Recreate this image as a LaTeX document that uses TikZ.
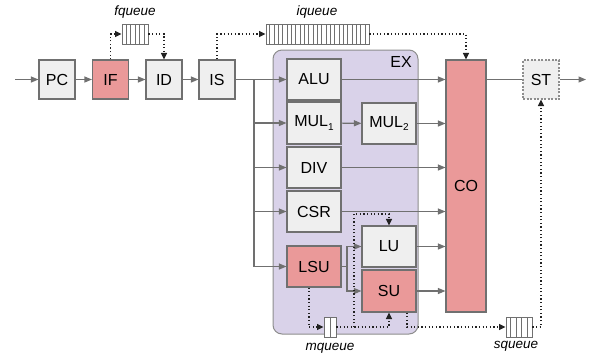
\documentclass[tikz,border=0pt]{standalone}
\usepackage{fontspec}
\setmainfont{Liberation Sans}
\usetikzlibrary{arrows.meta,calc}
\definecolor{boxgray}{HTML}{EFEFEF}
\definecolor{boxred}{HTML}{EA9999}
\definecolor{exfill}{HTML}{D9D2E9}
\definecolor{edge}{HTML}{707070}
\definecolor{dotc}{HTML}{222222}
\tikzset{
  unit/.style={draw=edge, line width=1.1pt, fill=boxgray, inner sep=0pt,
    font=\fontsize{16}{18}\selectfont},
  redunit/.style={unit, fill=boxred},
  queuebox/.style={draw=edge, line width=0.9pt, fill=white, inner sep=0pt,
    minimum height=20pt},
  qlabel/.style={font=\fontsize{13.5}{15}\selectfont\itshape},
  sline/.style={draw=edge, line width=1.1pt},
  arr/.style={sline, -{Triangle[length=7.5pt,width=6pt]}},
  darr/.style={draw=dotc, line width=1.2pt, dash pattern=on 1.2pt off 2.4pt,
    -{Triangle[length=6.5pt,width=6pt]}},
}
\newcommand{\sbsc}[1]{\raisebox{-0.45ex}{\fontsize{10}{10}\selectfont #1}}
\begin{document}
\begin{tikzpicture}[x=1pt,y=-1pt]
\path[use as bounding box] (0,0) rectangle (590,360);
% EX region
\draw[draw=edge!80, line width=1pt, fill=exfill, rounded corners=9pt] (273,50) rectangle (418,334);
\node[font=\fontsize{16}{18}\selectfont] (exlab) at (401,62) {EX};
% front-end
\node[unit, minimum width=36pt, minimum height=39pt] (PC) at (57,79.5) {PC};
\node[redunit, minimum width=36pt, minimum height=39pt] (IF) at (110.5,79.5) {IF};
\node[unit, minimum width=36pt, minimum height=39pt] (ID) at (164,79.5) {ID};
\node[unit, minimum width=36pt, minimum height=39pt] (IS) at (217,79.5) {IS};
% EX units
\node[unit, minimum width=54pt, minimum height=41pt] (ALU) at (314,79.5) {ALU};
\node[unit, minimum width=54pt, minimum height=42pt] (MUL1) at (314,123) {MUL\sbsc{1}};
\node[unit, minimum width=54pt, minimum height=41pt] (MUL2) at (389,123.5) {MUL\sbsc{2}};
\node[unit, minimum width=54pt, minimum height=41pt] (DIV) at (314,167.5) {DIV};
\node[unit, minimum width=54pt, minimum height=41pt] (CSR) at (314,211.5) {CSR};
\node[redunit, minimum width=54pt, minimum height=41pt] (LSU) at (314,266.5) {LSU};
\node[unit, minimum width=54pt, minimum height=41pt] (LU) at (389,246.5) {LU};
\node[redunit, minimum width=54pt, minimum height=42pt] (SU) at (389,291) {SU};
% commit / store
\node[redunit, minimum width=40pt, minimum height=252pt] (CO) at (466,186) {CO};
\node[unit, draw=edge!80, dash pattern=on 2pt off 1.5pt, minimum width=36pt, minimum height=39pt] (ST) at (541,79.5) {ST};
% queues
\node[queuebox, minimum width=26pt] (fq) at (135,34) {};
\node[queuebox, minimum width=103pt] (iq) at (317.5,34) {};
\node[queuebox, minimum width=12pt] (mq) at (330,327) {};
\node[queuebox, minimum width=26pt] (sq) at (519,327) {};
\foreach \q/\n in {fq/6, iq/24, mq/2, sq/5}{
  \pgfmathtruncatemacro{\m}{\n-1}
  \foreach \i in {1,...,\m}{
    \draw[draw=edge, line width=0.9pt]
      ($(\q.south west)!\i/\n!(\q.south east)$) -- ($(\q.north west)!\i/\n!(\q.north east)$);
  }
}
\node[qlabel] (fql) at (135,12) {fqueue};
\node[qlabel] (iql) at (317,12) {iqueue};
\node[qlabel] (mql) at (330,348) {mqueue};
\node[qlabel] (sql) at (516,346) {squeue};
% solid connectors
\coordinate (in) at (15,79.5);
\coordinate (out) at (586,79.5);
\draw[arr] (in) -- (PC);
\draw[arr] (PC) -- (IF);
\draw[arr] (IF) -- (ID);
\draw[arr] (ID) -- (IS);
\draw[arr] (IS) -- (ALU);
\coordinate (br) at (254,79.5);
\foreach \u in {MUL1,DIV,CSR,LSU}{
  \draw[arr] (br) |- (\u.west);
}
\draw[arr] (ALU) -- (ALU -| CO.west);
\draw[arr] (MUL1) -- (MUL2);
\foreach \u in {MUL2,DIV,CSR,LU,SU}{
  \draw[arr] (\u.east) -- (\u.east -| CO.west);
}
\draw[sline] (CO.east |- ST) -- (ST);
\draw[arr] (ST) -- (out);
\coordinate (ls) at (347,266.5);
\draw[sline] (LSU.east) -- (ls);
\draw[arr] (ls) |- (LU.west);
\draw[arr] (ls) |- (SU.west);
% dotted connectors
\draw[darr] (IF.north) |- (fq.west);
\draw[darr] (fq.east) -| (ID.north);
\draw[darr] (IS.north) |- (iq.west);
\draw[darr] (iq.east) -| (CO.north);
\draw[darr] ([xshift=-5pt]LSU.south) |- (mq.west);
\draw[darr] (mq.east) -| (SU.south);
\coordinate (mj) at (354,327);
\coordinate (lk) at (354,214);
\draw[darr] (mj) -- (lk) -| (LU.north);
\draw[darr] ([xshift=18pt]SU.south) |- (sq.west);
\draw[darr] (sq.east) -| (ST.south);
\end{tikzpicture}
\end{document}
